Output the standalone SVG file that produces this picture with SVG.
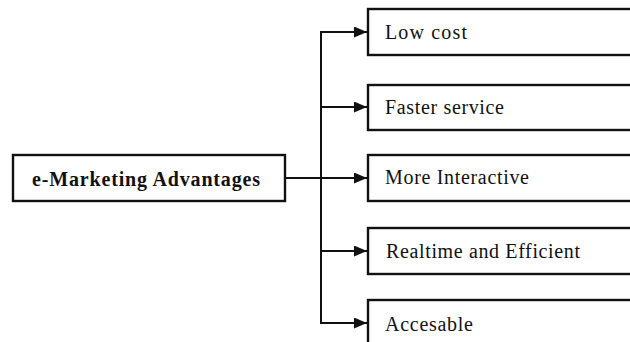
<svg xmlns="http://www.w3.org/2000/svg" width="630" height="342" viewBox="0 0 630 342">
<style>
.box{fill:#fff;stroke:#111;stroke-width:2.4}
.t{font-family:"Liberation Serif","Times New Roman",serif;font-size:20px;fill:#111}
.tb{font-family:"Liberation Serif","Times New Roman",serif;font-size:20px;font-weight:bold;fill:#111}
.ln{fill:none;stroke:#111;stroke-width:2}
</style>
<defs>
<marker id="ah" markerWidth="13" markerHeight="11" refX="13" refY="5.5" orient="auto" markerUnits="userSpaceOnUse">
<path d="M0,0 L13,5.5 L0,11 Z" fill="#111"/>
</marker>
</defs>
<rect width="630" height="342" fill="#fff"/>
<g id="connectors">
<path class="ln" d="M285,178 H367" marker-end="url(#ah)"/>
<path class="ln" d="M321,32 V323"/>
<path class="ln" d="M320,32 H367" marker-end="url(#ah)"/>
<path class="ln" d="M320,107 H367" marker-end="url(#ah)"/>
<path class="ln" d="M320,251 H367" marker-end="url(#ah)"/>
<path class="ln" d="M320,323 H367" marker-end="url(#ah)"/>
</g>
<g id="main">
<rect class="box" x="13" y="155" width="272" height="46"/>
<text class="tb" x="32" y="185.5" textLength="228" lengthAdjust="spacing">e-Marketing Advantages</text>
</g>
<g id="low-cost">
<rect class="box" x="368" y="9" width="280" height="46"/>
<text class="t" x="385" y="39" textLength="82" lengthAdjust="spacing">Low cost</text>
</g>
<g id="faster-service">
<rect class="box" x="368" y="85" width="280" height="45"/>
<text class="t" x="385" y="113.5" textLength="119" lengthAdjust="spacing">Faster service</text>
</g>
<g id="more-interactive">
<rect class="box" x="368" y="155" width="280" height="46"/>
<text class="t" x="385" y="184" textLength="144" lengthAdjust="spacing">More Interactive</text>
</g>
<g id="realtime">
<rect class="box" x="368" y="228" width="280" height="46"/>
<text class="t" x="386" y="257.5" textLength="194" lengthAdjust="spacing">Realtime and Efficient</text>
</g>
<g id="accesable">
<rect class="box" x="368" y="300" width="280" height="60"/>
<text class="t" x="385" y="330.5" textLength="88" lengthAdjust="spacing">Accesable</text>
</g>
</svg>
